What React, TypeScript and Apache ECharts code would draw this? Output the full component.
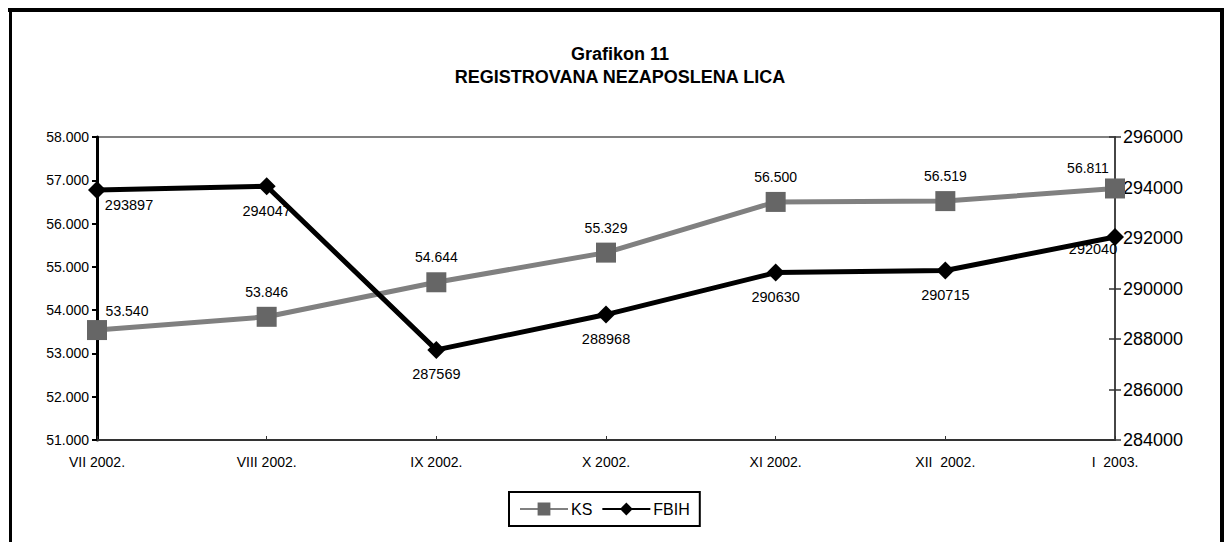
import React, { useEffect, useRef } from "react";
import * as echarts from "echarts";

const categories = ["VII 2002.", "VIII 2002.", "IX 2002.", "X 2002.", "XI 2002.", "XII  2002.", "I  2003."];
const ksValues = [53.54, 53.846, 54.644, 55.329, 56.5, 56.519, 56.811];
const fbihValues = [293897, 294047, 287569, 288968, 290630, 290715, 292040];
const leftTicks = { min: 51, max: 58, interval: 1 };
const rightTicks = { min: 284000, max: 296000, interval: 2000 };

const FONT = "'Liberation Sans', Arial, sans-serif";

export default function App() {
  const ref = useRef<HTMLDivElement>(null);
  useEffect(() => {
    if (!ref.current) return;
    const chart = echarts.init(ref.current, undefined, { renderer: "svg" });
    const n = categories.length;
    const ksData = ksValues.map((v, i) => {
      const item: any = { value: v };
      if (i === 0) item.label = { offset: [30, 6] };
      if (i === n - 1) item.label = { offset: [-27, 5] };
      return item;
    });
    const fbihData = fbihValues.map((v, i) => {
      const item: any = { value: v };
      if (i === 0) item.label = { offset: [32, -10] };
      if (i === n - 1) item.label = { offset: [-22, -12] };
      return item;
    });
    chart.setOption({
      animation: false,
      textStyle: { fontFamily: FONT },
      grid: {
        left: 97,
        right: 109,
        top: 137,
        bottom: 102,
        show: true,
        borderColor: "#808080",
        borderWidth: 2,
      },
      graphic: [
        {
          type: "text",
          x: 620,
          y: 65,
          style: {
            text: "Grafikon 11\nREGISTROVANA NEZAPOSLENA LICA",
            textAlign: "center",
            textVerticalAlign: "middle",
            fontFamily: FONT,
            fontSize: 18,
            fontWeight: "bold",
            lineHeight: 23,
            fill: "#000",
          },
        },
        { type: "line", shape: { x1: 8, y1: 10, x2: 1224, y2: 10 }, style: { stroke: "#000", lineWidth: 4 } },
        { type: "line", shape: { x1: 10.5, y1: 8, x2: 10.5, y2: 542 }, style: { stroke: "#000", lineWidth: 3 } },
        { type: "line", shape: { x1: 1222, y1: 8, x2: 1222, y2: 542 }, style: { stroke: "#000", lineWidth: 4 } },
      ],
      legend: {
        left: 509,
        top: 492,
        orient: "horizontal",
        borderColor: "#000",
        borderWidth: 2,
        padding: [9, 10],
        itemGap: 9,
        itemWidth: 48,
        itemHeight: 16,
        textStyle: { fontSize: 16, color: "#000", fontFamily: FONT, padding: [0, 0, 0, -2] },
        data: ["KS", "FBIH"],
      },
      xAxis: {
        type: "category",
        data: categories,
        boundaryGap: false,
        axisLine: { lineStyle: { color: "#333", width: 2 } },
        axisTick: { inside: true, length: 4, lineStyle: { color: "#333" } },
        axisLabel: { fontSize: 14, color: "#000", margin: 15, fontFamily: FONT },
        splitLine: { show: false },
      },
      yAxis: [
        {
          type: "value",
          position: "left",
          min: leftTicks.min,
          max: leftTicks.max,
          interval: leftTicks.interval,
          axisLine: { show: true, lineStyle: { color: "#000", width: 3 } },
          axisTick: { show: true, length: 5, lineStyle: { color: "#000", width: 2 } },
          axisLabel: {
            fontSize: 14,
            color: "#000",
            margin: 8,
            fontFamily: FONT,
            formatter: (v: number) => v.toFixed(3),
          },
          splitLine: { show: false },
        },
        {
          type: "value",
          position: "right",
          min: rightTicks.min,
          max: rightTicks.max,
          interval: rightTicks.interval,
          axisLine: { show: true, lineStyle: { color: "#333", width: 1.5 } },
          axisTick: { show: true, length: 6, lineStyle: { color: "#333", width: 1.5 } },
          axisLabel: {
            fontSize: 18,
            color: "#000",
            margin: 8,
            fontFamily: FONT,
            formatter: (v: number) => String(v),
          },
          splitLine: { show: false },
        },
        {
          type: "value",
          position: "right",
          min: rightTicks.min,
          max: rightTicks.max,
          interval: rightTicks.interval,
          axisLine: { show: false },
          axisTick: { show: true, inside: true, length: 6, lineStyle: { color: "#333", width: 1.5 } },
          axisLabel: { show: false },
          splitLine: { show: false },
        },
      ],
      series: [
        {
          name: "KS",
          type: "line",
          yAxisIndex: 0,
          data: ksData,
          symbol: "rect",
          symbolSize: 20,
          lineStyle: { color: "#808080", width: 5 },
          itemStyle: { color: "#666666" },
          label: {
            show: true,
            position: "top",
            distance: 8,
            fontSize: 14,
            color: "#000",
            fontFamily: FONT,
            formatter: (p: any) => Number(p.value).toFixed(3),
          },
          z: 2,
        },
        {
          name: "FBIH",
          type: "line",
          yAxisIndex: 1,
          data: fbihData,
          symbol: "diamond",
          symbolSize: 18,
          lineStyle: { color: "#000", width: 5 },
          itemStyle: { color: "#000" },
          label: {
            show: true,
            position: "bottom",
            distance: 8,
            fontSize: 14.5,
            color: "#000",
            fontFamily: FONT,
          },
          z: 3,
        },
      ],
    });
    return () => chart.dispose();
  }, []);
  return (
    <div
      ref={ref}
      style={{ position: "absolute", left: 0, top: 0, width: 1224, height: 542, background: "#fff" }}
    />
  );
}
